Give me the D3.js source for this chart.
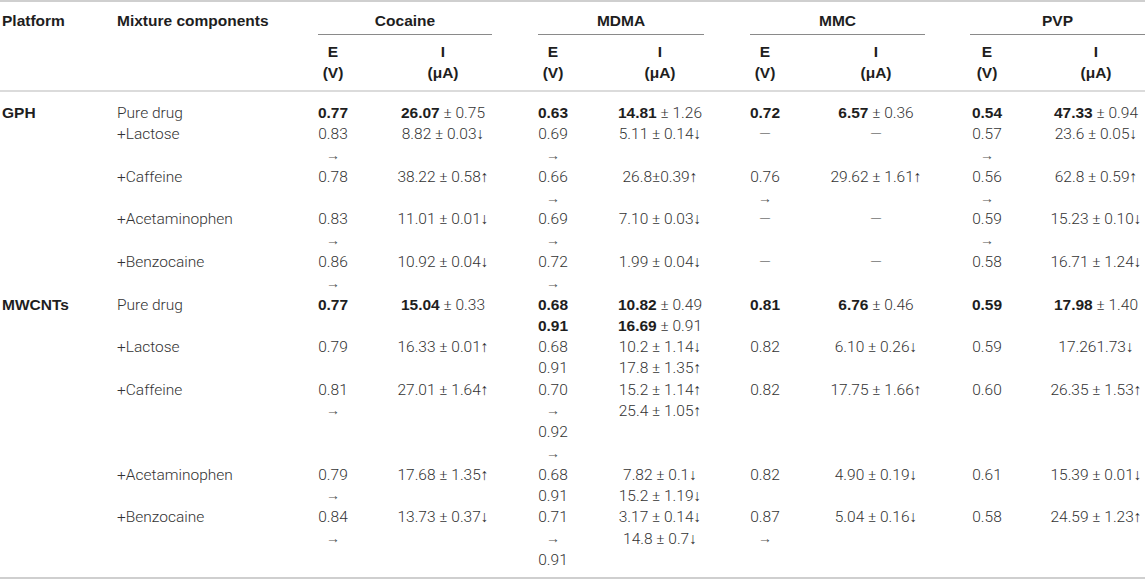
<!DOCTYPE html>
<html>
<head>
<meta charset="utf-8">
<script src="https://cdn.jsdelivr.net/npm/d3@7/dist/d3.min.js"></script>
<style>
  body { margin: 0; background: #fff; }
  text { font-family: Roboto, "Liberation Sans", sans-serif; }
  .b, .b text { font-family: "Liberation Sans", Arial, sans-serif; font-weight: bold; }
</style>
</head>
<body>
<svg id="tbl" width="1145" height="582"></svg>
<script>
var platforms = ["GPH", "MWCNTs"];
var components = ["Pure drug", "+Lactose", "+Caffeine", "+Acetaminophen", "+Benzocaine"];
var drugs = ["Cocaine", "MDMA", "MMC", "PVP"];
var subHeads = [["E", "(V)"], ["I", "(μA)"]];

// one entry per platform x component row, "\n" breaks a cell into lines
var cocaineE = ["0.77", "0.83\n→", "0.78", "0.83\n→", "0.86\n→",
                "0.77", "0.79", "0.81\n→", "0.79\n→", "0.84\n→"];
var cocaineI = ["26.07 ± 0.75", "8.82 ± 0.03↓", "38.22 ± 0.58↑", "11.01 ± 0.01↓", "10.92 ± 0.04↓",
                "15.04 ± 0.33", "16.33 ± 0.01↑", "27.01 ± 1.64↑", "17.68 ± 1.35↑", "13.73 ± 0.37↓"];
var mdmaE = ["0.63", "0.69\n→", "0.66\n→", "0.69\n→", "0.72\n→",
             "0.68\n0.91", "0.68\n0.91", "0.70\n→\n0.92\n→", "0.68\n0.91", "0.71\n→\n0.91"];
var mdmaI = ["14.81 ± 1.26", "5.11 ± 0.14↓", "26.8±0.39↑", "7.10 ± 0.03↓", "1.99 ± 0.04↓",
             "10.82 ± 0.49\n16.69 ± 0.91", "10.2 ± 1.14↓\n17.8 ± 1.35↑", "15.2 ± 1.14↑\n25.4 ± 1.05↑",
             "7.82 ± 0.1↓\n15.2 ± 1.19↓", "3.17 ± 0.14↓\n14.8 ± 0.7↓"];
var mmcE = ["0.72", "—", "0.76\n→", "—", "—",
            "0.81", "0.82", "0.82", "0.82", "0.87\n→"];
var mmcI = ["6.57 ± 0.36", "—", "29.62 ± 1.61↑", "—", "—",
            "6.76 ± 0.46", "6.10 ± 0.26↓", "17.75 ± 1.66↑", "4.90 ± 0.19↓", "5.04 ± 0.16↓"];
var pvpE = ["0.54", "0.57\n→", "0.56\n→", "0.59\n→", "0.58",
            "0.59", "0.59", "0.60", "0.61", "0.58"];
var pvpI = ["47.33 ± 0.94", "23.6 ± 0.05↓", "62.8 ± 0.59↑", "15.23 ± 0.10↓", "16.71 ± 1.24↓",
            "17.98 ± 1.40", "17.261.73↓", "26.35 ± 1.53↑", "15.39 ± 0.01↓", "24.59 ± 1.23↑"];

var eCols = [cocaineE, mdmaE, mmcE, pvpE];
var iCols = [cocaineI, mdmaI, mmcI, pvpI];

// layout (pixel positions of columns)
var W = 1145, H = 582;
var xPlatform = 2, xComp = 117;
var xE = [333, 553, 765, 987];
var xI = [443, 660, 876, 1096];
var spans = [[318, 492], [538, 704], [750, 925], [970, 1145]];
var dark = "#1e1e1e", body = "#333", fs = 15.5, fb = 15.5;

var svg = d3.select("#tbl");

// build rows, each one as tall as its tallest cell
var rows = [];
var lineCount = 0;
platforms.forEach(function(p, pi) {
  components.forEach(function(c, ci) {
    var k = pi * components.length + ci;
    var n = 1;
    eCols.concat(iCols).forEach(function(col) {
      n = Math.max(n, col[k].split("\n").length);
    });
    rows.push({platform: ci === 0 ? p : "", comp: c, pure: ci === 0, k: k, start: lineCount, n: n});
    lineCount += n;
  });
});

var y = d3.scaleLinear().domain([0, lineCount]).range([102, 570]);

// rules
function rule(x1, x2, yy, color, w) {
  svg.append("line").attr("x1", x1).attr("x2", x2).attr("y1", yy).attr("y2", yy)
    .attr("stroke", color).attr("stroke-width", w);
}
rule(0, W, 1, "#cfcfcf", 2);
rule(0, W, 91, "#cfcfcf", 1.5);
rule(0, W, 578, "#cfcfcf", 2);
spans.forEach(function(s) { rule(s[0], s[1], 34.5, "#8a8a8a", 1); });

// header
var head = svg.append("g").attr("class", "b").attr("fill", dark).attr("font-size", fb);
head.append("text").attr("x", xPlatform).attr("y", 21).attr("dy", "0.35em").text("Platform");
head.append("text").attr("x", xComp).attr("y", 21).attr("dy", "0.35em").text("Mixture components");
drugs.forEach(function(d, i) {
  head.append("text").attr("x", (spans[i][0] + spans[i][1]) / 2).attr("y", 21)
    .attr("dy", "0.35em").attr("text-anchor", "middle").text(d);
  [xE[i], xI[i]].forEach(function(cx, j) {
    subHeads[j].forEach(function(t, l) {
      head.append("text").attr("x", cx).attr("y", 52 + l * 21).attr("dy", "0.35em")
        .attr("text-anchor", "middle").text(t);
    });
  });
});

// body
var g = svg.append("g").attr("font-size", fs).attr("fill", body).attr("font-weight", 300);

rows.forEach(function(r) {
  var yl = function(l) { return y(r.start + l + 0.5); };
  if (r.platform) {
    g.append("text").attr("class", "b").attr("font-size", fb).attr("x", xPlatform)
      .attr("y", yl(0)).attr("dy", "0.35em").attr("fill", dark).text(r.platform);
  }
  g.append("text").attr("x", xComp).attr("y", yl(0)).attr("dy", "0.35em").text(r.comp);

  drugs.forEach(function(d, i) {
    eCols[i][r.k].split("\n").forEach(function(t, l) {
      var tx = g.append("text").attr("x", xE[i]).attr("y", yl(l)).attr("dy", "0.35em")
        .attr("text-anchor", "middle").text(t);
      if (r.pure) tx.attr("class", "b").attr("font-size", fb).attr("fill", dark);
      if (t === "→") tx.attr("font-size", 14).attr("fill", "#555");
    });
    iCols[i][r.k].split("\n").forEach(function(t, l) {
      var tx = g.append("text").attr("x", xI[i]).attr("y", yl(l)).attr("dy", "0.35em")
        .attr("text-anchor", "middle");
      var parts = t.split(" ± ");
      if (r.pure && parts.length === 2) {
        tx.append("tspan").attr("class", "b").attr("font-size", fb).attr("fill", dark).text(parts[0]);
        tx.append("tspan").text(" ± " + parts[1]);
      } else {
        tx.text(t);
      }
    });
  });
});
</script>
</body>
</html>
